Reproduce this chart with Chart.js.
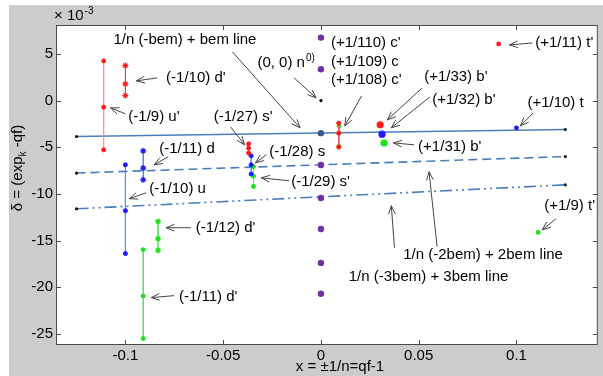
<!DOCTYPE html>
<html><head><meta charset="utf-8">
<script src="https://cdn.jsdelivr.net/npm/chart.js@4/dist/chart.umd.min.js"></script>
<style>html,body{margin:0;padding:0;background:#fff}canvas{display:block}</style>
</head><body>
<canvas id="c" width="603" height="376" style="width:603px;height:376px"></canvas>
<script>
// ---- tick labels ----
const xTicks = [-0.1, -0.05, 0, 0.05, 0.1];
const xTickLabels = ['-0.1', '-0.05', '0', '0.05', '0.1'];
const yTicks = [5, 0, -5, -10, -15, -20, -25];
const yTickLabels = ['5', '0', '-5', '-10', '-15', '-20', '-25'];

// ---- bem lines (x endpoints, y endpoints, units 1e-3) ----
const bemLineX = [-0.125, 0.125];
const bem1LineY = [-3.85, -3.1];
const bem2LineY = [-7.77, -6.0];
const bem3LineY = [-11.6, -9.03];

// ---- points on x = 0 ----
const originX = [0];
const originY = [0];
const centerBlueY = [-3.49];
const purpleY = [6.75, 3.36, -6.9, -10.45, -13.77, -17.4, -20.7];

// ---- vertical series ----
const uPrime9X = -0.1111, uPrime9Y = [4.25, -0.71, -5.28];       // (-1/9) u'
const dPrime10X = -0.1, dPrime10Y = [3.75, 1.79, 0.54];          // (-1/10) d'
const u10X = -0.1, u10Y = [-6.88, -11.8, -16.4];                 // (-1/10) u
const d11X = -0.0909, d11Y = [-5.39, -7.24, -8.49];              // (-1/11) d
const dPrime12X = -0.0833, dPrime12Y = [-12.95, -14.8, -16.06];  // (-1/12) d'
const dPrime11X = -0.0909, dPrime11Y = [-15.98, -20.94, -25.5];  // (-1/11) d'
const sPrime27X = -0.037, sPrime27Y = [-4.64, -5.1, -5.63];      // (-1/27) s'
const s28X = -0.0357, s28Y = [-5.92, -6.88, -7.88];              // (-1/28) s
const sPrime29X = -0.0345, sPrime29Y = [-7.07, -8.1, -9.2];      // (-1/29) s'
const cPrime110X = 0.00909, cPrime110Y = [-2.42, -3.49, -4.99];  // (+1/110) c'
const cPrime108X = 0.00926, cPrime108Y = [-2.7, -3.49, -4.9];    // (+1/108) c'

// ---- single points ----
const bPrime33X = [0.0303], bPrime33Y = [-2.6];   // (+1/33) b'
const b32X = [0.03125], b32Y = [-3.6];            // (+1/32) b'
const bPrime31X = [0.0323], bPrime31Y = [-4.56];  // (+1/31) b'
const tPrime11X = [0.0909], tPrime11Y = [6.07];   // (+1/11) t'
const t10X = [0.1], t10Y = [-2.92];               // (+1/10) t
const tPrime9X = [0.1111], tPrime9Y = [-14.13];   // (+1/9) t'

// ---- annotations (data units): text, text anchor, arrow start, arrow tip ----
const annText = ["1/n (-bem) + bem line", "(0, 0) n", "(+1/110) c'", "(+1/109) c", "(+1/108) c'",
  "(+1/33) b'", "(+1/32) b'", "(+1/31) b'", "(+1/11) t'", "(+1/10) t", "(+1/9) t'",
  "1/n (-2bem) + 2bem line", "1/n (-3bem) + 3bem line", "(-1/10) d'", "(-1/9) u'", "(-1/11) d",
  "(-1/10) u", "(-1/12) d'", "(-1/11) d'", "(-1/27) s'", "(-1/28) s", "(-1/29) s'"];
const annAt = [[-0.1061,6.5],[-0.0325,4.04],[0.0051,6.18],[0.0051,4.14],[0.0051,2.22],
  [0.0528,2.54],[0.0569,0.07],[0.0497,-4.96],[0.1096,6.18],[0.1056,-0.25],[0.1142,-11.27],
  [0.0421,-16.52],[0.0142,-18.88],[-0.0792,2.43],[-0.0985,-1.75],[-0.0827,-5.17],
  [-0.0878,-9.45],[-0.064,-13.63],[-0.0726,-21.03],[-0.0548,-1.75],[-0.0264,-5.49],[-0.0152,-8.7]];
const arrFrom = [[-0.0452,5.21],[-0.0137,2.43],null,null,[0.0208,0.5],
  [0.0518,1.36],[0.0558,0.4],[0.0477,-4.75],[0.1081,6.18],[0.1086,-1.32],[0.1203,-12.67],
  [0.0594,-15.66],[0.0376,-15.77],[-0.0838,2.43],[-0.1,-1.42],[-0.0782,-6.03],
  [-0.0893,-9.88],[-0.0665,-13.63],[-0.0751,-20.91],[-0.0462,-2.82],[-0.0279,-5.81],[-0.0162,-8.6]];
const arrTo = [[-0.0107,-2.92],[-0.0025,0.29],null,null,[0.0122,-2.72],
  [0.034,-2.07],[0.036,-2.92],[0.0371,-4.53],[0.0964,5.96],[0.102,-2.71],[0.1132,-13.85],
  [0.0553,-7.63],[0.036,-11.27],[-0.0944,2.11],[-0.1076,-0.78],[-0.0853,-6.88],
  [-0.098,-10.52],[-0.0792,-13.63],[-0.0868,-21.12],[-0.0391,-4.74],[-0.0335,-6.67],[-0.0305,-8.28]];

const pts = (xs, ys) => ys.map((y, i) => ({x: Array.isArray(xs) ? xs[i] : xs, y}));
const FONT = '"Liberation Sans", Arial, sans-serif';
const RED = '#ff1a1a', BLUE = '#1a1aff', GREEN = '#19e619', PURPLE = '#7030a0', LBLUE = '#4a7ebb';

function vser(xv, ys, lineCol, ptCol, style, r) {
  return {data: pts(xv, ys), showLine: true, borderColor: lineCol, borderWidth: 1.2,
    pointStyle: style, pointRadius: r, pointBackgroundColor: ptCol, pointBorderColor: ptCol,
    pointBorderWidth: style === 'star' ? 1.2 : 1, order: 1};
}
function dot(xs, ys, col, r) {
  return {data: pts(xs, ys), showLine: false, pointRadius: r, pointBackgroundColor: col,
    pointBorderColor: col, pointBorderWidth: 0, order: 0};
}
function bline(ys, dash) {
  return {data: pts(bemLineX, ys), showLine: true, borderColor: LBLUE, borderWidth: 1.6,
    borderDash: dash, pointRadius: 0, order: 2};
}

const datasets = [
  bline(bem1LineY, []), bline(bem2LineY, [9, 5]), bline(bem3LineY, [12, 4, 2, 4, 2, 4]),
  dot(bemLineX.concat(bemLineX, bemLineX), bem1LineY.concat(bem2LineY, bem3LineY), '#111', 1.6),
  dot(purpleY.map(() => 0), purpleY, PURPLE, 3.2),
  dot(originX, centerBlueY, '#3a5a88', 3.2),
  dot(originX, originY, '#000', 1.6),
  vser(uPrime9X, uPrime9Y, '#ff8a8a', RED, 'circle', 2),
  vser(dPrime10X, dPrime10Y, '#ff3030', RED, 'star', 3),
  vser(u10X, u10Y, '#3d97ea', BLUE, 'circle', 2),
  vser(d11X, d11Y, '#2a6fe8', BLUE, 'star', 3),
  vser(dPrime12X, dPrime12Y, '#2ad42a', GREEN, 'star', 3),
  vser(dPrime11X, dPrime11Y, '#3ccf5a', GREEN, 'circle', 2),
  vser(sPrime27X, sPrime27Y, '#ff6a6a', RED, 'circle', 2),
  vser(s28X, s28Y, '#3d7fea', BLUE, 'circle', 2),
  vser(sPrime29X, sPrime29Y, '#7ee08e', GREEN, 'circle', 2),
  vser(cPrime110X, cPrime110Y, '#ff5050', RED, 'circle', 2),
  vser(cPrime108X, cPrime108Y, '#20b0a0', GREEN, 'circle', 2),
  dot(bPrime33X, bPrime33Y, RED, 3.6),
  dot(b32X, b32Y, BLUE, 3.6),
  dot(bPrime31X, bPrime31Y, GREEN, 3.6),
  dot(tPrime11X, tPrime11Y, RED, 2.4),
  dot(t10X, t10Y, BLUE, 2.4),
  dot(tPrime9X, tPrime9Y, GREEN, 2.4)
];

const decor = {
  id: 'decor',
  beforeDraw(chart) {
    const c = chart.ctx, a = chart.chartArea;
    c.save();
    c.fillStyle = '#fff'; c.fillRect(0, 0, chart.width, chart.height);
    c.fillStyle = '#cccccc'; c.fillRect(9, 5, chart.width - 9, chart.height - 5);
    c.fillStyle = '#fff'; c.fillRect(a.left, a.top, a.right - a.left, a.bottom - a.top);
    c.restore();
  },
  afterDatasetsDraw(chart) {
    const c = chart.ctx, a = chart.chartArea, sx = chart.scales.x, sy = chart.scales.y;
    c.save();
    // box + inward ticks
    c.strokeStyle = '#4a4a4a'; c.lineWidth = 1;
    c.strokeRect(a.left + 0.5, a.top + 0.5, a.right - a.left - 1, a.bottom - a.top - 1);
    c.beginPath();
    sx.ticks.forEach(t => {
      const p = Math.round(sx.getPixelForValue(t.value)) + 0.5;
      c.moveTo(p, a.bottom); c.lineTo(p, a.bottom - 5);
      c.moveTo(p, a.top); c.lineTo(p, a.top + 5);
    });
    sy.ticks.forEach(t => {
      const p = Math.round(sy.getPixelForValue(t.value)) + 0.5;
      c.moveTo(a.left, p); c.lineTo(a.left + 5, p);
      c.moveTo(a.right, p); c.lineTo(a.right - 5, p);
    });
    c.stroke();
    // annotations
    c.fillStyle = '#000'; c.textBaseline = 'middle'; c.textAlign = 'left';
    annText.forEach((txt, i) => {
      const x = sx.getPixelForValue(annAt[i][0]), y = sy.getPixelForValue(annAt[i][1]);
      c.font = '15px ' + FONT;
      c.fillText(txt, x, y);
      if (txt === '(0, 0) n') {
        const w = c.measureText(txt).width;
        c.font = '10px ' + FONT;
        c.fillText('0)', x + w + 1, y - 5);
      }
    });
    c.strokeStyle = '#444'; c.lineWidth = 1;
    arrFrom.forEach((f, i) => {
      if (!f) return;
      const x1 = sx.getPixelForValue(f[0]), y1 = sy.getPixelForValue(f[1]);
      const x2 = sx.getPixelForValue(arrTo[i][0]), y2 = sy.getPixelForValue(arrTo[i][1]);
      const ang = Math.atan2(y2 - y1, x2 - x1), L = 9, sp = 0.38;
      c.beginPath();
      c.moveTo(x1, y1); c.lineTo(x2, y2);
      c.moveTo(x2 - L * Math.cos(ang - sp), y2 - L * Math.sin(ang - sp));
      c.lineTo(x2, y2);
      c.lineTo(x2 - L * Math.cos(ang + sp), y2 - L * Math.sin(ang + sp));
      c.stroke();
    });
    // exponent label
    c.font = '15px ' + FONT; c.textBaseline = 'alphabetic';
    c.fillText('\u00d7 10', a.left - 2, a.top - 5);
    const we = c.measureText('\u00d7 10').width;
    c.font = '10px ' + FONT;
    c.fillText('-3', a.left - 2 + we + 1, a.top - 11);
    // x title
    c.font = '15px ' + FONT; c.textAlign = 'center'; c.textBaseline = 'middle';
    c.fillText('x = \u00b11/n=qf-1', 340, chart.height - 9);
    // y title (rotated)
    c.translate(18, 168); c.rotate(-Math.PI / 2);
    const p1 = '\u03b4 = (exp', p2 = 'k', p3 = ' -qf)';
    c.font = '15px ' + FONT;
    const w1 = c.measureText(p1).width, w3 = c.measureText(p3).width;
    c.font = '10px ' + FONT; const w2 = c.measureText(p2).width;
    let x0 = -(w1 + w2 + w3) / 2;
    c.textAlign = 'left';
    c.font = '15px ' + FONT; c.fillText(p1, x0, 0);
    c.font = '10px ' + FONT; c.fillText(p2, x0 + w1, 5);
    c.font = '15px ' + FONT; c.fillText(p3, x0 + w1 + w2, 0);
    c.restore();
  }
};

new Chart(document.getElementById('c'), {
  type: 'scatter',
  data: {datasets},
  options: {
    responsive: false, animation: false, devicePixelRatio: 1,
    layout: {padding: {left: 9, top: 25, right: 1, bottom: 0}},
    plugins: {legend: {display: false}, tooltip: {enabled: false}},
    scales: {
      x: {type: 'linear', min: -0.1355, max: 0.1416,
        grid: {display: false, drawTicks: false}, border: {display: false},
        afterBuildTicks: s => { s.ticks = xTicks.map(v => ({value: v})); },
        afterFit: s => { s.height = 31; },
        ticks: {color: '#000', padding: 2, maxRotation: 0, autoSkip: false,
          font: {family: FONT, size: 15},
          callback: (v) => xTickLabels[xTicks.findIndex(t => Math.abs(t - v) < 1e-9)]}},
      y: {type: 'linear', min: -26.2, max: 8.1,
        grid: {display: false, drawTicks: false}, border: {display: false},
        afterBuildTicks: s => { s.ticks = yTicks.map(v => ({value: v})); },
        afterFit: s => { s.width = 47; },
        ticks: {color: '#000', padding: 3, autoSkip: false,
          font: {family: FONT, size: 15},
          callback: (v) => yTickLabels[yTicks.findIndex(t => Math.abs(t - v) < 1e-9)]}}
    }
  },
  plugins: [decor]
});
</script>
</body></html>
